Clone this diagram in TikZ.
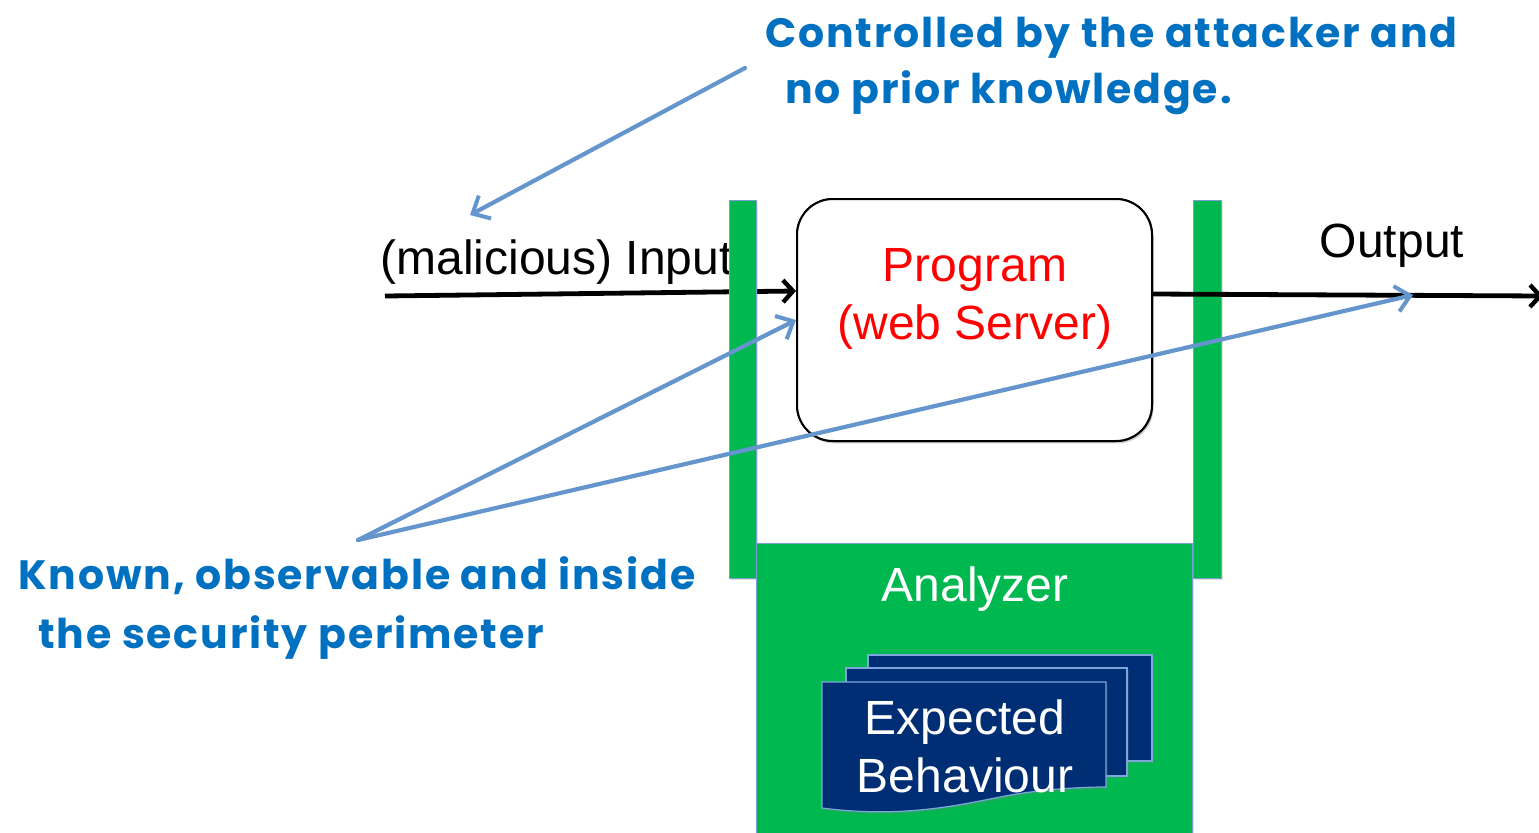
\documentclass[tikz,border=0pt]{standalone}
\usepackage{fontspec}
\setmainfont{Liberation Sans}
\newfontfamily\notefont{Poppins}[LetterSpace=4.5]
\usetikzlibrary{arrows.meta,shadows}

\definecolor{notecol}{HTML}{0070C0}
\definecolor{pointer}{HTML}{6495CD}
\definecolor{barfill}{HTML}{00B850}
\definecolor{barline}{HTML}{7A9CCF}
\definecolor{pagefill}{HTML}{002E74}
\definecolor{pageline}{HTML}{7EA6DC}

\begin{document}
\begin{tikzpicture}[x=0.5pt,y=-0.5pt,
  softshadow/.style={drop shadow={opacity=0.22,shadow xshift=0.8pt,shadow yshift=-1.2pt}},
  bar/.style={draw=barline,line width=0.5pt,fill=barfill,softshadow},
  progbox/.style={draw=black,line width=1pt,fill=white,rounded corners=18pt,
    minimum width=177.5pt,minimum height=121pt,inner sep=0pt,softshadow},
  page/.style={draw=pageline,line width=0.6pt,fill=pagefill,softshadow},
  maintext/.style={font=\fontsize{24}{29}\selectfont,inner sep=0pt},
  flow/.style={draw=black,line width=2.4pt,-{Straight Barb[length=5pt,width=11pt,line width=2.2pt]}},
  pointerarrow/.style={draw=pointer,line width=2.1pt,line cap=round,
    -{Straight Barb[length=7pt,width=13pt,line width=2pt]}},
  note/.style={text=notecol,font=\notefont\bfseries\fontsize{20.5}{28}\selectfont,
    align=left,inner sep=0pt,anchor=north west}]

\useasboundingbox (0,0) rectangle (1539,832);

% input label and input flow (behind the left perimeter bar)
\node[maintext,anchor=base west] (inlabel) at (380,274) {(malicious) Input};
\node[progbox] (prog) at (974.5,320) {};
\coordinate (instart) at (385,296);
\draw[flow] (instart) -- ([yshift=14.5pt]prog.west);

% security perimeter: two bars and the analyzer
\filldraw[bar] (729,200) rectangle (756,578);
\filldraw[bar] (1193,200) rectangle (1221,578);
\filldraw[bar] (756,543) rectangle (1192,834);

% program box drawn again above the bars
\node[progbox] (prog) at (974.5,320) {};
\node[maintext,text=red,align=center] (progtext) at (975,298.5) {Program\\(web Server)};

% output flow
\coordinate (outend) at (1543,296);
\draw[flow] ([yshift=13pt]prog.east) -- (outend);
\node[maintext,anchor=base] (outlabel) at (1392,257) {Output};

% analyzer contents
\node[maintext,text=white,anchor=base] (anlabel) at (975,601) {Analyzer};
\filldraw[page] (868,655) rectangle (1152,761);
\filldraw[page] (846,668) rectangle (1127,776);
\filldraw[page] (822,682) -- (1106,682) -- (1106,787)
  .. controls (1075,787) and (1035,790) .. (1000,797)
  .. controls (955,806) and (900,818) .. (822,808) -- cycle;
\node[maintext,text=white,align=center] (expected) at (965,746) {Expected\\Behaviour};

% annotations and their pointers
\coordinate (ctrltail) at (745,68);
\coordinate (inputspot) at (470,215);
\coordinate (knowntail) at (358,540);
\coordinate (outspot) at (1413,295);
\draw[pointerarrow] (ctrltail) -- (inputspot);
\draw[pointerarrow] (knowntail) -- (prog.west);
\draw[pointerarrow] (knowntail) -- (outspot);

\node[note] (ctrlnote) at (765,17) {Controlled by the attacker and\\\hspace*{10pt}no prior knowledge.};
\node[note,font=\notefont\bfseries\fontsize{20.5}{29.5}\selectfont] (knownnote) at (18,556)
  {Known, observable and inside\\\hspace*{10pt}the security perimeter};

\end{tikzpicture}
\end{document}
